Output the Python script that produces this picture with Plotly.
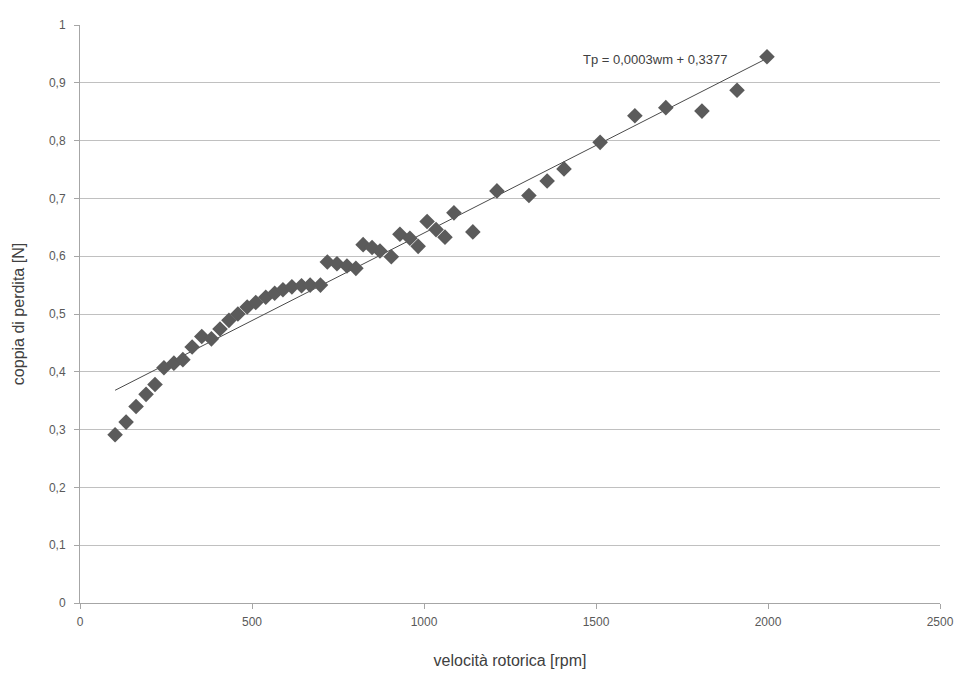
import numpy as np
import plotly.graph_objects as go

# Data
velocita_rpm = [102, 134, 163, 192, 218, 244, 273, 299, 326, 354, 382, 407, 433, 459,
                486, 511, 540, 566, 590, 616, 644, 669, 699, 719, 747, 776, 802, 823,
                849, 872, 905, 930, 959, 983, 1009, 1035, 1061, 1087, 1142, 1212, 1305,
                1358, 1407, 1512, 1613, 1703, 1808, 1910, 1997]
coppia_N = [0.291, 0.313, 0.340, 0.361, 0.378, 0.407, 0.415, 0.421, 0.443, 0.461, 0.457,
            0.474, 0.489, 0.500, 0.512, 0.520, 0.529, 0.536, 0.542, 0.547, 0.549, 0.550,
            0.550, 0.590, 0.587, 0.583, 0.579, 0.620, 0.615, 0.609, 0.599, 0.638, 0.631,
            0.617, 0.660, 0.646, 0.633, 0.675, 0.642, 0.713, 0.705, 0.730, 0.751, 0.797,
            0.843, 0.857, 0.851, 0.887, 0.945]
x_ticks = [0, 500, 1000, 1500, 2000, 2500]
y_ticks = [0, 0.1, 0.2, 0.3, 0.4, 0.5, 0.6, 0.7, 0.8, 0.9, 1.0]
equation_text = "Tp = 0,0003wm + 0,3377"

# Linear trendline (least squares on the data)
slope, intercept = np.polyfit(velocita_rpm, coppia_N, 1)
trend_x = [min(velocita_rpm), max(velocita_rpm)]
trend_y = [slope * v + intercept for v in trend_x]

fig = go.Figure()
fig.add_trace(go.Scatter(
    x=trend_x, y=trend_y, mode="lines",
    line=dict(color="#4a4a4a", width=1),
    hoverinfo="skip", showlegend=False,
))
fig.add_trace(go.Scatter(
    x=velocita_rpm, y=coppia_N, mode="markers",
    marker=dict(symbol="diamond", size=12, color="#5b5b5b"),
    showlegend=False,
))

fig.add_annotation(
    x=1674, y=0.940, text=equation_text, showarrow=False,
    font=dict(family="Liberation Sans", size=13, color="#404040"),
)

font_axes = dict(family="Liberation Sans", size=12, color="#595959")
title_font = dict(family="Liberation Sans", size=16, color="#404040")
fig.update_layout(
    width=962, height=674,
    margin=dict(l=72, r=30, t=10, b=79),
    paper_bgcolor="white", plot_bgcolor="white",
    separators=",.",
    font=font_axes,
    xaxis=dict(
        range=[0, 2500], tickvals=x_ticks,
        showgrid=False, zeroline=False,
        showline=True, linecolor="#a6a6a6", linewidth=1,
        ticks="outside", ticklen=5, tickcolor="#a6a6a6",
        ticklabelstandoff=3,
        tickfont=font_axes,
        title=dict(text="velocità rotorica [rpm]", standoff=26, font=title_font),
    ),
    yaxis=dict(
        range=[0, 1], tickvals=y_ticks,
        showgrid=True, gridcolor="#c0c0c0", gridwidth=1,
        zeroline=False,
        showline=True, linecolor="#a6a6a6", linewidth=1,
        ticks="outside", ticklen=5, tickcolor="#a6a6a6",
        ticklabelstandoff=6,
        tickfont=font_axes,
        title=dict(text="coppia di perdita [N]", standoff=20, font=title_font),
    ),
)

fig.write_html("out.html")
